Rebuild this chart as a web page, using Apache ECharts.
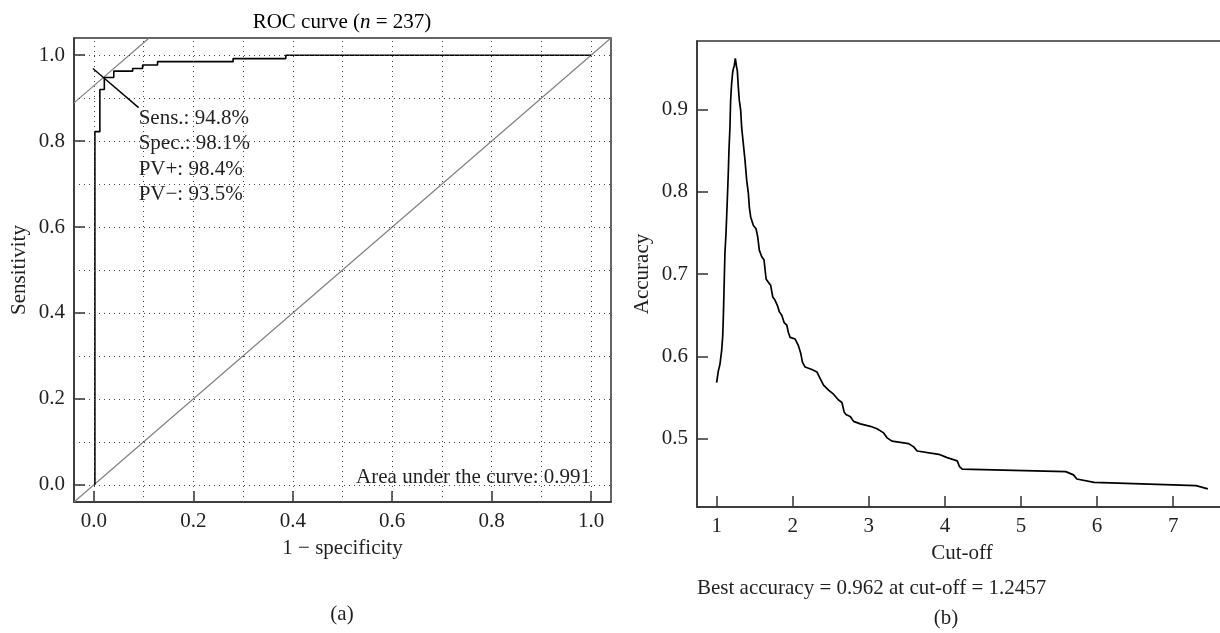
<!DOCTYPE html>
<html>
<head>
<meta charset="utf-8">
<script src="https://cdn.jsdelivr.net/npm/echarts@6/dist/echarts.min.js"></script>
<style>
  html, body { margin: 0; padding: 0; background: #fff; }
  #chart { width: 1220px; height: 633px; }
</style>
</head>
<body>
<div id="chart"></div>
<script>
// (a) ROC curve, corner points of the step function (1 - specificity, sensitivity)
const rocFpr = [0.002, 0.012, 0.021, 0.040, 0.078, 0.098, 0.128, 0.280, 0.386, 1.000];
const rocTpr = [0.000, 0.822, 0.920, 0.948, 0.963, 0.969, 0.977, 0.985, 0.992, 1.000];
const optPoint = [0.019, 0.948];
const rocTicks = [0, 0.2, 0.4, 0.6, 0.8, 1.0];
const rocGrid = [0, 0.1, 0.2, 0.3, 0.4, 0.5, 0.6, 0.7, 0.8, 0.9, 1.0];

// (b) accuracy against cut-off
const cutoff = [1.000, 1.022, 1.043, 1.066, 1.079, 1.087, 1.096, 1.109, 1.123, 1.140,
  1.153, 1.162, 1.175, 1.184, 1.197, 1.211, 1.219, 1.232, 1.2457, 1.263,
  1.272, 1.285, 1.298, 1.316, 1.329, 1.351, 1.373, 1.395, 1.417, 1.430,
  1.448, 1.483, 1.518, 1.540, 1.561, 1.593, 1.623, 1.650, 1.680, 1.711,
  1.738, 1.768, 1.798, 1.825, 1.856, 1.887, 1.922, 1.943, 1.966, 1.988,
  2.032, 2.075, 2.107, 2.128, 2.163, 2.252, 2.318, 2.361, 2.405, 2.471,
  2.536, 2.602, 2.647, 2.677, 2.704, 2.756, 2.800, 2.888, 3.020, 3.108,
  3.195, 3.240, 3.305, 3.524, 3.590, 3.635, 3.920, 4.030, 4.162, 4.192,
  4.228, 5.589, 5.690, 5.734, 5.962, 7.302, 7.456];
const accuracy = [0.568, 0.582, 0.590, 0.607, 0.623, 0.644, 0.676, 0.725, 0.749, 0.789,
  0.822, 0.850, 0.878, 0.911, 0.931, 0.945, 0.949, 0.953, 0.962, 0.951,
  0.947, 0.927, 0.911, 0.899, 0.878, 0.858, 0.838, 0.814, 0.798, 0.781,
  0.769, 0.759, 0.755, 0.745, 0.729, 0.721, 0.717, 0.694, 0.690, 0.686,
  0.672, 0.668, 0.662, 0.654, 0.650, 0.641, 0.638, 0.629, 0.623, 0.622,
  0.621, 0.613, 0.603, 0.593, 0.587, 0.584, 0.581, 0.573, 0.565, 0.559,
  0.554, 0.547, 0.544, 0.532, 0.529, 0.527, 0.521, 0.518, 0.515, 0.512,
  0.507, 0.501, 0.497, 0.494, 0.490, 0.485, 0.481, 0.477, 0.473, 0.466,
  0.463, 0.460, 0.456, 0.451, 0.447, 0.443, 0.439];
const accXTicks = [1, 2, 3, 4, 5, 6, 7];
const accYTicks = [0.5, 0.6, 0.7, 0.8, 0.9];

const FONT = 'Liberation Serif';
const INK = '#231f20';
const txt = { fontFamily: FONT, fontSize: 21, color: INK };

const chart = echarts.init(document.getElementById('chart'));

const rocData = rocFpr.map((x, i) => [x, rocTpr[i]]);
const accData = cutoff.map((x, i) => [x, accuracy[i]]);
// slope-1 line through the optimal point, and the pointer to the text
const [ox, oy] = optPoint;
const b = oy - ox;
const tangent = [[-0.04, -0.04 + b], [1.04 - b, 1.04]];
const pointer = [[ox - 0.021, oy + 0.021], [ox + 0.071, oy - 0.070]];

function axisCommon(ticks, fmt) {
  return {
    type: 'value',
    axisLine: { show: true, onZero: false, lineStyle: { color: '#333', width: 1.5 } },
    splitLine: { show: false },
    axisTick: { show: true, inside: true, length: 11, customValues: ticks, lineStyle: { color: '#333', width: 1.5 } },
    axisLabel: { customValues: ticks, formatter: fmt, margin: 9, ...txt },
    nameLocation: 'middle',
    nameTextStyle: txt
  };
}

let option = {
  animation: false,
  grid: [
    { left: 74, top: 38, width: 537, height: 464, show: true, borderColor: '#333', borderWidth: 1.5, outerBoundsMode: 'none' },
    // the right edge of panel (b) runs past the picture, as in the original
    { left: 697, top: 41, width: 530, height: 466, show: true, borderColor: '#333', borderWidth: 1.5, outerBoundsMode: 'none' }
  ],
  xAxis: [
    { ...axisCommon(rocTicks, v => v.toFixed(1)), gridIndex: 0, min: -0.04, max: 1.04, name: '1 − specificity', nameGap: 36 },
    { ...axisCommon(accXTicks, v => String(v)), gridIndex: 1, min: 0.742, max: 7.708, name: 'Cut-off', nameGap: 36 }
  ],
  yAxis: [
    { ...axisCommon(rocTicks, v => v.toFixed(1)), gridIndex: 0, min: -0.04, max: 1.04, name: 'Sensitivity', nameGap: 44 },
    { ...axisCommon(accYTicks, v => v.toFixed(1)), gridIndex: 1, min: 0.417, max: 0.983, name: 'Accuracy', nameGap: 44 }
  ],
  graphic: [
    {
      type: 'text', x: 342, y: 22,
      style: {
        text: '{a|ROC curve (}{i|n}{a| = 237)}', align: 'center', verticalAlign: 'middle',
        rich: { a: { ...txt }, i: { ...txt, fontStyle: 'italic' } }
      }
    },
    { type: 'text', x: 342, y: 614, style: { text: '(a)', align: 'center', verticalAlign: 'middle', font: '21px ' + FONT, fill: INK } },
    { type: 'text', x: 946, y: 618, style: { text: '(b)', align: 'center', verticalAlign: 'middle', font: '21px ' + FONT, fill: INK } },
    { type: 'text', x: 697, y: 588, style: { text: 'Best accuracy = 0.962 at cut-off = 1.2457', align: 'left', verticalAlign: 'middle', font: '21px ' + FONT, fill: INK } }
  ],
  series: [
    {
      // dotted reference grid
      type: 'line', xAxisIndex: 0, yAxisIndex: 0, data: [], silent: true,
      markLine: {
        silent: true, symbol: ['none', 'none'], label: { show: false },
        lineStyle: { type: [1, 4], color: '#444', width: 1 },
        emphasis: { disabled: true },
        data: [...rocGrid.map(v => ({ xAxis: v })), ...rocGrid.map(v => ({ yAxis: v }))]
      }
    },
    {
      type: 'line', xAxisIndex: 0, yAxisIndex: 0, data: [[-0.04, -0.04], [1.04, 1.04]],
      symbol: 'none', silent: true, lineStyle: { color: '#808080', width: 1.2 }
    },
    {
      type: 'line', xAxisIndex: 0, yAxisIndex: 0, data: tangent,
      symbol: 'none', silent: true, lineStyle: { color: '#808080', width: 1.2 }
    },
    {
      type: 'line', xAxisIndex: 0, yAxisIndex: 0, data: rocData, step: 'start',
      symbol: 'none', silent: true, lineStyle: { color: '#000', width: 1.6 }
    },
    {
      type: 'line', xAxisIndex: 0, yAxisIndex: 0, data: pointer,
      symbol: 'none', silent: true, lineStyle: { color: '#000', width: 1.4 }
    },
    {
      type: 'scatter', xAxisIndex: 0, yAxisIndex: 0, symbolSize: 0, silent: true,
      itemStyle: { opacity: 1 },
      data: [pointer[1]],
      label: {
        show: true, position: [0, -2], align: 'left', verticalAlign: 'top', lineHeight: 25.5,
        formatter: 'Sens.: 94.8%\nSpec.: 98.1%\nPV+: 98.4%\nPV−: 93.5%', ...txt
      }
    },
    {
      type: 'scatter', xAxisIndex: 0, yAxisIndex: 0, symbolSize: 0, silent: true,
      itemStyle: { opacity: 1 },
      data: [[1.0, 0.0]],
      label: {
        show: true, position: [0, -7], align: 'right', verticalAlign: 'middle',
        formatter: 'Area under the curve: 0.991', ...txt
      }
    },
    {
      type: 'line', xAxisIndex: 1, yAxisIndex: 1, data: accData,
      symbol: 'none', silent: true, lineStyle: { color: '#000', width: 1.7 }
    }
  ]
};

option && chart.setOption(option);
</script>
</body>
</html>
